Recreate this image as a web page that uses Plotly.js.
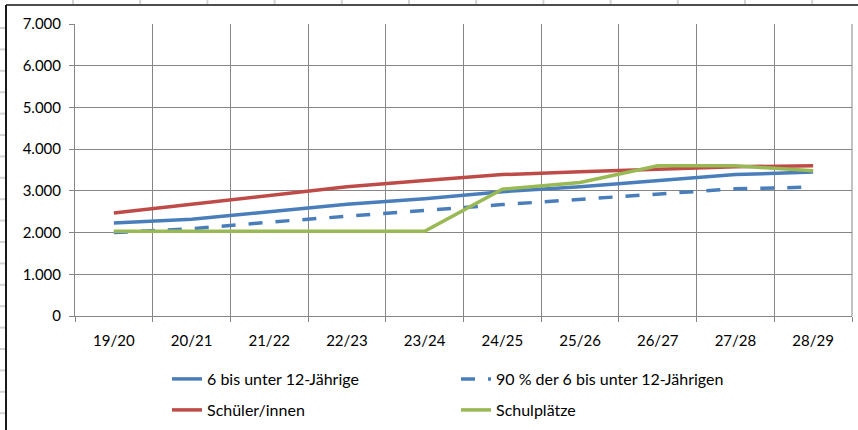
<!DOCTYPE html>
<html>
<head>
<meta charset="utf-8">
<script src="https://cdn.plot.ly/plotly-3.0.1.min.js"></script>
<style>
  html, body { margin: 0; padding: 0; background: #ffffff; }
  #chart { width: 858px; height: 430px; }
</style>
</head>
<body>
<div id="chart"></div>
<script>
const categories = ["19/20", "20/21", "21/22", "22/23", "23/24", "24/25", "25/26", "26/27", "27/28", "28/29"];
const kinder6bis12 = [2230, 2320, 2500, 2680, 2810, 2980, 3100, 3250, 3390, 3450];
const kinder90Prozent = [2000, 2090, 2250, 2400, 2530, 2670, 2800, 2930, 3050, 3090];
const schueler = [2470, 2680, 2890, 3100, 3250, 3390, 3460, 3530, 3580, 3600];
const schulplaetze = [2030, 2030, 2030, 2030, 2030, 3040, 3200, 3600, 3600, 3480];
const seriesNames = ["6 bis unter 12-Jährige", "90 % der 6 bis unter 12-Jährigen", "Schüler/innen", "Schulplätze"];
const yTicks = [0, 1000, 2000, 3000, 4000, 5000, 6000, 7000];

const FONT = "Lato, 'Liberation Sans', sans-serif";
const W = 858, H = 430;
const M = { l: 75, r: 6, t: 24, b: 114, autoexpand: false };
const pw = W - M.l - M.r, ph = H - M.t - M.b;
const px = x => (x - M.l) / pw;      // pixel -> paper x
const py = y => (H - M.b - y) / ph;  // pixel -> paper y

const traces = [
  { x: categories, y: kinder6bis12, name: seriesNames[0], type: "scatter", mode: "lines",
    line: { color: "#4A7EBB", width: 3.5 }, legend: "legend" },
  { x: categories, y: kinder90Prozent, name: seriesNames[1], type: "scatter", mode: "lines",
    line: { color: "#4A7EBB", width: 3.5, dash: "14px,13px" }, legend: "legend" },
  { x: categories, y: schueler, name: seriesNames[2], type: "scatter", mode: "lines",
    line: { color: "#BE4B48", width: 3.5 }, legend: "legend2" },
  { x: categories, y: schulplaetze, name: seriesNames[3], type: "scatter", mode: "lines",
    line: { color: "#98B954", width: 3.5 }, legend: "legend2" }
];

const shapes = [];
// spreadsheet cell lines outside the chart
for (let k = 0; k < 12; k++) {
  const x = 73 + 67.2 * k;
  shapes.push({ type: "line", xref: "paper", yref: "paper", x0: px(x), x1: px(x), y0: py(0), y1: py(5),
    line: { color: "#d4d4d4", width: 2 }, layer: "below" });
}
for (let k = 0; k < 19; k++) {
  const y = 28 + 21.4 * k;
  shapes.push({ type: "line", xref: "paper", yref: "paper", x0: px(0), x1: px(6), y0: py(y), y1: py(y),
    line: { color: "#d4d4d4", width: 2 }, layer: "below" });
}
// chart area border
shapes.push({ type: "line", xref: "paper", yref: "paper", x0: px(6), x1: px(858), y0: py(5), y1: py(5),
  line: { color: "#4d4d4d", width: 2 } });
shapes.push({ type: "line", xref: "paper", yref: "paper", x0: px(6), x1: px(6), y0: py(5), y1: py(430),
  line: { color: "#1a1a1a", width: 2 } });
// plot area right edge
shapes.push({ type: "line", xref: "paper", yref: "paper", x0: 1, x1: 1, y0: 0, y1: 1,
  line: { color: "#868686", width: 1 }, layer: "below" });

const layout = {
  width: W, height: H,
  margin: M,
  paper_bgcolor: "#ffffff",
  plot_bgcolor: "#ffffff",
  separators: ",.",
  font: { family: FONT, size: 15, color: "#000000" },
  showlegend: true,
  xaxis: {
    type: "category",
    range: [-0.5, 9.5],
    tickson: "boundaries",
    ticks: "outside", ticklen: 5, tickcolor: "#868686", tickwidth: 1,
    showgrid: true, gridcolor: "#868686", gridwidth: 1,
    showline: true, linecolor: "#868686", linewidth: 1,
    tickfont: { family: FONT, size: 15, color: "#000000" },
    ticklabelstandoff: 11,
    automargin: false,
    zeroline: false, fixedrange: true
  },
  yaxis: {
    range: [0, 7000],
    tickvals: yTicks,
    tickformat: ",d",
    ticks: "outside", ticklen: 5, tickcolor: "#868686", tickwidth: 1,
    showgrid: true, gridcolor: "#868686", gridwidth: 1,
    showline: true, linecolor: "#868686", linewidth: 1,
    tickfont: { family: FONT, size: 15, color: "#000000" },
    ticklabelstandoff: 5,
    automargin: false,
    zeroline: false, fixedrange: true
  },
  legend: {
    orientation: "h", x: px(167), xanchor: "left", y: py(379), yanchor: "middle",
    entrywidth: 244, entrywidthmode: "pixels",
    font: { family: FONT, size: 16, color: "#000000" }, bgcolor: "rgba(0,0,0,0)"
  },
  legend2: {
    orientation: "h", x: px(167), xanchor: "left", y: py(410), yanchor: "middle",
    entrywidth: 244, entrywidthmode: "pixels",
    font: { family: FONT, size: 16, color: "#000000" }, bgcolor: "rgba(0,0,0,0)"
  },
  shapes: shapes
};

Plotly.newPlot("chart", traces, layout, { staticPlot: true, displayModeBar: false });
</script>
</body>
</html>
